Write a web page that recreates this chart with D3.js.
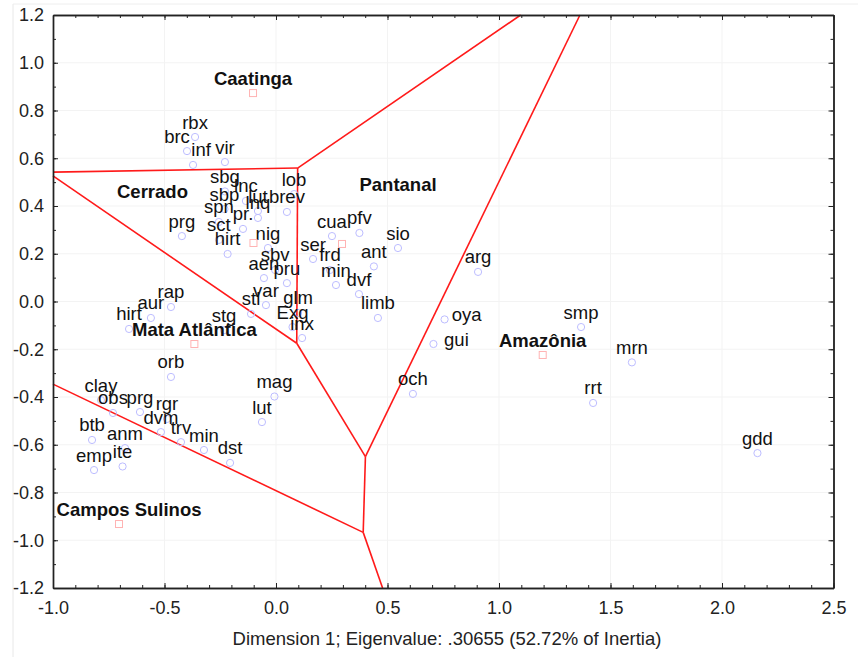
<!DOCTYPE html>
<html>
<head>
<meta charset="utf-8">
<script src="https://cdn.jsdelivr.net/npm/d3@7"></script>
<style>
  html, body { margin: 0; padding: 0; background: #fff; }
  svg { display: block; font-family: Arial, 'Liberation Sans', sans-serif; }
</style>
</head>
<body>
<svg id="chart" width="858" height="661"></svg>
<script>
// species codes and their coordinates on dimensions 1 and 2
const codes = ['rbx', 'brc', 'inf', 'vir', 'sbg', 'lnc', 'lob', 'brev', 'sbp', 'lut', 'lnq', 'spn', 'pr.',
    'prg', 'sct', 'hirt', 'nig', 'ser', 'cua', 'pfv', 'sio', 'frd', 'ant', 'min', 'dvf', 'limb',
    'sbv', 'aen', 'pru', 'var', 'stl', 'glm', 'Exg', 'inx', 'stg', 'rap', 'aur', 'hirt', 'orb',
    'clay', 'obs', 'prg', 'rgr', 'dvm', 'trv', 'min', 'dst', 'btb', 'anm', 'ite', 'emp', 'mag', 'lut',
    'arg', 'oya', 'gui', 'och', 'smp', 'mrn', 'rrt', 'gdd'];
const dim1 = [-0.363, -0.399, -0.372, -0.229, -0.229, -0.135, 0.081, 0.049, -0.231, -0.081, -0.081, -0.256, -0.148,
    -0.422, -0.256, -0.217, -0.036, 0.166, 0.251, 0.374, 0.547, 0.242, 0.439, 0.269, 0.372, 0.457,
    -0.004, -0.054, 0.049, -0.045, -0.112, 0.099, 0.074, 0.117, -0.233, -0.471, -0.561, -0.659, -0.471,
    -0.785, -0.731, -0.610, -0.489, -0.516, -0.426, -0.323, -0.206, -0.825, -0.677, -0.688, -0.816, -0.007, -0.063,
    0.906, 0.756, 0.706, 0.614, 1.368, 1.596, 1.422, 2.159];
const dim2 = [0.689, 0.630, 0.572, 0.584, 0.461, 0.421, 0.450, 0.375, 0.387, 0.379, 0.350, 0.333, 0.304,
    0.274, 0.258, 0.199, 0.224, 0.178, 0.274, 0.287, 0.224, 0.132, 0.147, 0.069, 0.031, -0.069,
    0.132, 0.098, 0.077, -0.015, -0.052, -0.048, -0.107, -0.153, -0.120, -0.023, -0.069, -0.115, -0.316,
    -0.413, -0.467, -0.463, -0.492, -0.547, -0.589, -0.622, -0.676, -0.580, -0.614, -0.691, -0.706, -0.398, -0.505,
    0.124, -0.075, -0.178, -0.387, -0.107, -0.255, -0.425, -0.635];

// biomes (column points)
const biomes = ['Caatinga', 'Cerrado', 'Pantanal', 'Mata Atlântica', 'Campos Sulinos', 'Amazônia'];
const biomeDim1 = [-0.103, -0.101, 0.296, -0.366, -0.704, 1.196];
const biomeDim2 = [0.873, 0.245, 0.241, -0.178, -0.932, -0.224];

// boundary segments between biome regions
const boundaries = [
    [[-1.0, 0.542], [0.097, 0.559]],
    [[0.097, 0.559], [1.097, 1.2]],
    [[0.097, 0.559], [0.093, -0.175]],
    [[-1.0, 0.526], [0.093, -0.175]],
    [[0.093, -0.175], [0.401, -0.650]],
    [[0.401, -0.650], [1.363, 1.2]],
    [[0.401, -0.650], [0.391, -0.967]],
    [[-1.0, -0.346], [0.391, -0.967]],
    [[0.391, -0.967], [0.478, -1.2]]
];

const xLabel = 'Dimension 1; Eigenvalue: .30655 (52.72% of Inertia)';

// manual label shifts (px) as in the original figure
const labelShift = { brc: [-10, 0], inf: [8, 0], oya: [22, 10], gui: [23, 11] };
const biomeShift = { 'Cerrado': [-101, -37], 'Pantanal': [56, -45], 'Campos Sulinos': [10, 0] };

const width = 858, height = 661;
const margin = { top: 15, right: 24.5, bottom: 73, left: 53 };

const svg = d3.select('#chart');

const x = d3.scaleLinear().domain([-1, 2.5]).range([margin.left, width - margin.right]);
const y = d3.scaleLinear().domain([-1.2, 1.2]).range([height - margin.bottom, margin.top]);

const xMajor = d3.range(-1, 2.5001, 0.5);
const xMinor = d3.range(-1, 2.5001, 0.1);
const yMajor = d3.range(-1.2, 1.2001, 0.2);
const yMinor = d3.range(-1.2, 1.2001, 0.1);
const fmt = d => (Math.abs(d) < 1e-9 ? 0 : d).toFixed(1);

// faint outer frame
svg.append('line').attr('x1', 13).attr('x2', 13).attr('y1', 4).attr('y2', 657)
    .attr('stroke', '#e8e8e8');
svg.append('line').attr('x1', 13).attr('x2', width).attr('y1', 4).attr('y2', 4)
    .attr('stroke', '#eeeeee');

// faint grid
const grid = svg.append('g').attr('stroke', '#f3f3f3').attr('stroke-width', 1);
grid.selectAll('.gx').data(xMajor).join('line')
    .attr('x1', d => x(d)).attr('x2', d => x(d))
    .attr('y1', y(-1.2)).attr('y2', y(1.2));
grid.selectAll('.gy').data(yMajor).join('line')
    .attr('x1', x(-1)).attr('x2', x(2.5))
    .attr('y1', d => y(d)).attr('y2', d => y(d));

// boundaries
svg.append('g')
    .selectAll('line')
    .data(boundaries)
    .join('line')
    .attr('x1', d => x(d[0][0])).attr('y1', d => y(d[0][1]))
    .attr('x2', d => x(d[1][0])).attr('y2', d => y(d[1][1]))
    .attr('stroke', '#ff1a1a')
    .attr('stroke-width', 1.6);

// axes with inward ticks on all four sides
function styleAxis(g) {
    g.select('.domain').attr('stroke', '#222').attr('stroke-width', 1.4);
    g.selectAll('.tick line').attr('stroke', '#222').attr('stroke-width', 1);
    g.selectAll('text').attr('fill', '#222').attr('font-size', '18px')
        .attr('font-family', 'Arial, "Liberation Sans", sans-serif');
}

const addAxis = (axisFn, ticks, size, showLabels, transform) => {
    const g = svg.append('g')
        .attr('transform', transform)
        .call(axisFn.tickValues(ticks).tickSizeInner(-size).tickSizeOuter(0)
            .tickFormat(showLabels ? fmt : () => '').tickPadding(showLabels ? 12 : 0));
    styleAxis(g);
    return g;
};

const bottomY = height - margin.bottom;
addAxis(d3.axisBottom(x), xMinor, 3, false, `translate(0,${bottomY})`);
const xAx = addAxis(d3.axisBottom(x), xMajor, 5, true, `translate(0,${bottomY})`);
xAx.selectAll('text').attr('dy', '0.71em').attr('y', 13);
addAxis(d3.axisTop(x), xMinor, 3, false, `translate(0,${margin.top})`);
addAxis(d3.axisTop(x), xMajor, 5, false, `translate(0,${margin.top})`);

addAxis(d3.axisLeft(y), yMinor, 3, false, `translate(${margin.left},0)`);
const yAx = addAxis(d3.axisLeft(y), yMajor, 5, true, `translate(${margin.left},0)`);
yAx.selectAll('text').attr('x', -9);
addAxis(d3.axisRight(y), yMinor, 3, false, `translate(${width - margin.right},0)`);
addAxis(d3.axisRight(y), yMajor, 5, false, `translate(${width - margin.right},0)`);

// axis title
svg.append('text')
    .attr('x', 447)
    .attr('y', 645)
    .attr('text-anchor', 'middle')
    .attr('font-size', '18.5px')
    .attr('fill', '#222')
    .text(xLabel);

// species points
const pts = codes.map((c, i) => ({ code: c, d1: dim1[i], d2: dim2[i] }));

svg.append('g')
    .selectAll('circle')
    .data(pts)
    .join('circle')
    .attr('cx', d => x(d.d1))
    .attr('cy', d => y(d.d2))
    .attr('r', 3.6)
    .attr('fill', 'none')
    .attr('stroke', '#bdbdff')
    .attr('stroke-width', 1);

svg.append('g')
    .selectAll('text')
    .data(pts)
    .join('text')
    .attr('x', d => x(d.d1) + (labelShift[d.code] ? labelShift[d.code][0] : 0))
    .attr('y', d => y(d.d2) - 8.5 + (labelShift[d.code] ? labelShift[d.code][1] : 0))
    .attr('text-anchor', 'middle')
    .attr('font-size', '18.5px')
    .attr('fill', '#111')
    .text(d => d.code);

// biome points
const bio = biomes.map((b, i) => ({ name: b, d1: biomeDim1[i], d2: biomeDim2[i] }));

svg.append('g')
    .selectAll('rect')
    .data(bio)
    .join('rect')
    .attr('x', d => x(d.d1) - 3.5)
    .attr('y', d => y(d.d2) - 3.5)
    .attr('width', 7)
    .attr('height', 7)
    .attr('fill', 'none')
    .attr('stroke', '#ffb3b3')
    .attr('stroke-width', 1);

svg.append('g')
    .selectAll('text')
    .data(bio)
    .join('text')
    .attr('x', d => x(d.d1) + (biomeShift[d.name] ? biomeShift[d.name][0] : 0))
    .attr('y', d => y(d.d2) - 8 + (biomeShift[d.name] ? biomeShift[d.name][1] : 0))
    .attr('text-anchor', 'middle')
    .attr('font-size', '18.5px')
    .attr('font-weight', 'bold')
    .attr('fill', '#111')
    .text(d => d.name);
</script>
</body>
</html>
